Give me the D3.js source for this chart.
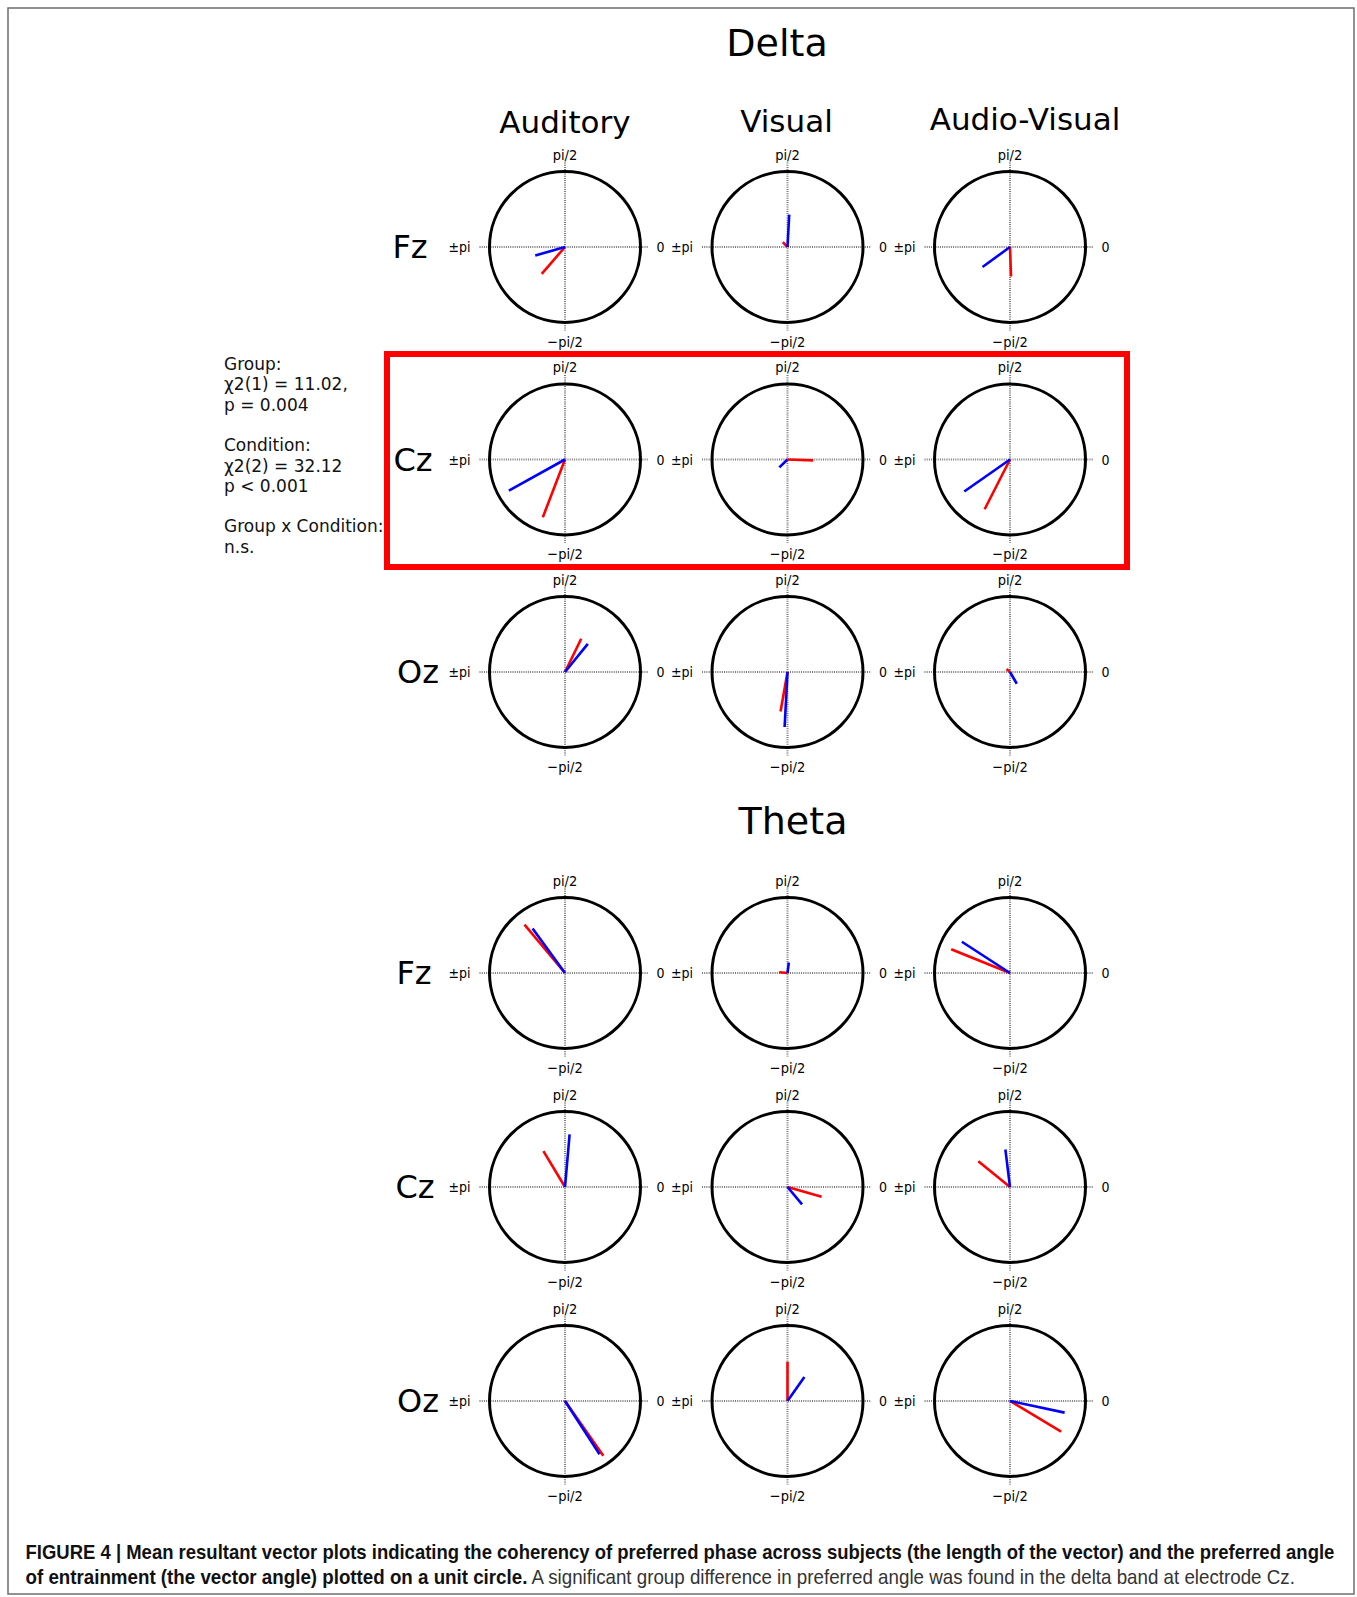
<!DOCTYPE html>
<html>
<head>
<meta charset="utf-8">
<script src="https://cdn.jsdelivr.net/npm/d3@7"></script>
<style>
  html, body { margin: 0; padding: 0; background: #fff; }
  svg { display: block; }
</style>
</head>
<body>
<script>
// ---------------- DATA ----------------
const bands = ["Delta", "Theta"];
const electrodes = ["Fz", "Cz", "Oz"];
const conditions = ["Auditory", "Visual", "Audio-Visual"];
const axisLabels = { top: "pi/2", bottom: "\u2212pi/2", left: "\u00b1pi", right: "0" };

// Mean resultant vectors, order: band -> electrode -> condition
// angles in degrees (0 = right, counter-clockwise), length relative to the unit circle
const redAngle = [
  229, 133, 272,
  249, -2, 243,
  64, 260, 138,
  130, 175, 158,
  121, -16, 141,
  -55, 90, -31
];
const redLength = [
  0.47, 0.09, 0.39,
  0.82, 0.34, 0.74,
  0.49, 0.53, 0.06,
  0.835, 0.11, 0.84,
  0.555, 0.47, 0.54,
  0.885, 0.52, 0.79
];
const blueAngle = [
  196, 87, 216,
  209, 224, 215,
  51, 267, -60,
  126, 83, 147,
  85, -50, 97,
  -57, 55, -12
];
const blueLength = [
  0.41, 0.43, 0.45,
  0.85, 0.15, 0.74,
  0.48, 0.73, 0.18,
  0.73, 0.14, 0.76,
  0.70, 0.30, 0.50,
  0.84, 0.39, 0.74
];

const statsLines = [
  "Group:", "\u03c72(1) = 11.02,", "p = 0.004", "",
  "Condition:", "\u03c72(2) = 32.12", "p < 0.001", "",
  "Group x Condition:", "n.s."
];
const captionBold1 = "FIGURE 4 | Mean resultant vector plots indicating the coherency of preferred phase across subjects (the length of the vector) and the preferred angle";
const captionBold2 = "of entrainment (the vector angle) plotted on a unit circle.";
const captionNormal2 = " A significant group difference in preferred angle was found in the delta band at electrode Cz.";

// ---------------- LAYOUT ----------------
const W = 1357, H = 1597;
const svg = d3.select("body").append("svg").attr("width", W).attr("height", H);
const FONT = "'DejaVu Sans', Verdana, sans-serif";
const SMALL = "'DejaVu Sans Condensed', 'DejaVu Sans', sans-serif";

svg.append("rect").attr("x", 8).attr("y", 8).attr("width", 1346).attr("height", 1586)
  .attr("fill", "none").attr("stroke", "#6e6e6e").attr("stroke-width", 1.5);

const x = d3.scalePoint().domain(conditions).range([565, 1010]);
const yBand = {
  Delta: d3.scalePoint().domain(electrodes).range([247, 672]),
  Theta: d3.scalePoint().domain(electrodes).range([973, 1401])
};
const titleY = { Delta: 56, Theta: 834 };
const titleX = { Delta: 777, Theta: 793 };
const rowLabelShift = { Delta: [-5, -2, 3], Theta: [-1, 0, 3] };
const rScale = d3.scaleLinear().domain([0, 1]).range([0, 75.5]);

// red highlight box (Delta, Cz)
svg.append("rect").attr("x", 387).attr("y", 354).attr("width", 740).attr("height", 213)
  .attr("fill", "none").attr("stroke", "#ff0000").attr("stroke-width", 6);

// column headers
const headerShift = [0, -1, 15];
const headerY = [133, 132, 130];
conditions.forEach((c, i) => {
  svg.append("text").attr("x", x(c) + headerShift[i]).attr("y", headerY[i])
    .attr("text-anchor", "middle").attr("font-family", FONT).attr("font-size", 31)
    .attr("fill", "#000").text(c);
});

bands.forEach((band, bi) => {
  const y = yBand[band];
  svg.append("text").attr("x", titleX[band]).attr("y", titleY[band])
    .attr("text-anchor", "middle").attr("font-family", FONT).attr("font-size", 38)
    .attr("fill", "#000").text(band);

  electrodes.forEach((el, ei) => {
    svg.append("text").attr("x", x(conditions[0]) - 150 + rowLabelShift[band][ei]).attr("y", y(el) + 11)
      .attr("text-anchor", "middle").attr("font-family", FONT).attr("font-size", 32)
      .attr("fill", "#000").text(el);

    conditions.forEach((c, ci) => {
      const idx = bi * 9 + ei * 3 + ci;
      const cx = x(c), cy = y(el);
      const g = svg.append("g").attr("transform", `translate(${cx},${cy})`);
      const R = rScale(1);
      // dotted axes
      g.append("line").attr("x1", -R - 10).attr("x2", R + 8).attr("y1", 0).attr("y2", 0)
        .attr("stroke", "#7a7a7a").attr("stroke-width", 2).attr("stroke-dasharray", "1,1.2");
      g.append("line").attr("y1", -R - 9).attr("y2", R + 8).attr("x1", 0).attr("x2", 0)
        .attr("stroke", "#7a7a7a").attr("stroke-width", 2).attr("stroke-dasharray", "1,1.2");
      // unit circle
      g.append("circle").attr("r", R).attr("fill", "none").attr("stroke", "#000").attr("stroke-width", 3);
      // labels
      g.append("text").attr("x", 0).attr("y", -R - 12).attr("text-anchor", "middle")
        .attr("font-family", SMALL).attr("font-size", 14.5).text(axisLabels.top);
      g.append("text").attr("x", 0).attr("y", R + 24).attr("text-anchor", "middle")
        .attr("font-family", SMALL).attr("font-size", 14.5).text(axisLabels.bottom);
      g.append("text").attr("x", -R - 19).attr("y", 5).attr("text-anchor", "end")
        .attr("font-family", SMALL).attr("font-size", 14).text(axisLabels.left);
      g.append("text").attr("x", R + 16).attr("y", 5).attr("text-anchor", "start")
        .attr("font-family", SMALL).attr("font-size", 14).text(axisLabels.right);
      // vectors
      const vecs = [
        { a: redAngle[idx], l: redLength[idx], col: "#ff0000" },
        { a: blueAngle[idx], l: blueLength[idx], col: "#0000ff" }
      ];
      vecs.forEach(v => {
        const t = v.a * Math.PI / 180;
        g.append("line").attr("x1", 0).attr("y1", 0)
          .attr("x2", rScale(v.l) * Math.cos(t)).attr("y2", -rScale(v.l) * Math.sin(t))
          .attr("stroke", v.col).attr("stroke-width", 2.6);
      });
    });
  });
});

// stats text
const st = svg.append("text").attr("font-family", FONT).attr("font-size", 17).attr("fill", "#111");
statsLines.forEach((s, i) => {
  st.append("tspan").attr("x", 224).attr("y", 370 + i * 20.3).text(s);
});

// caption
function captionLine(parts, x0, y0, targetW) {
  const t = svg.append("text").attr("font-family", "'Liberation Sans Narrow', 'Liberation Sans', Arial, sans-serif")
    .attr("font-size", 20);
  parts.forEach(p => {
    t.append("tspan").attr("font-weight", p.bold ? "bold" : "normal").attr("fill", p.bold ? "#111" : "#333").text(p.text);
  });
  const w = t.node().getComputedTextLength();
  t.attr("transform", `translate(${x0},${y0}) scale(${targetW / w},1)`);
}
captionLine([{ text: captionBold1, bold: true }], 25.5, 1559, 1310);
captionLine([{ text: captionBold2, bold: true }, { text: captionNormal2, bold: false }], 25.5, 1584, 1270);
</script>
</body>
</html>
